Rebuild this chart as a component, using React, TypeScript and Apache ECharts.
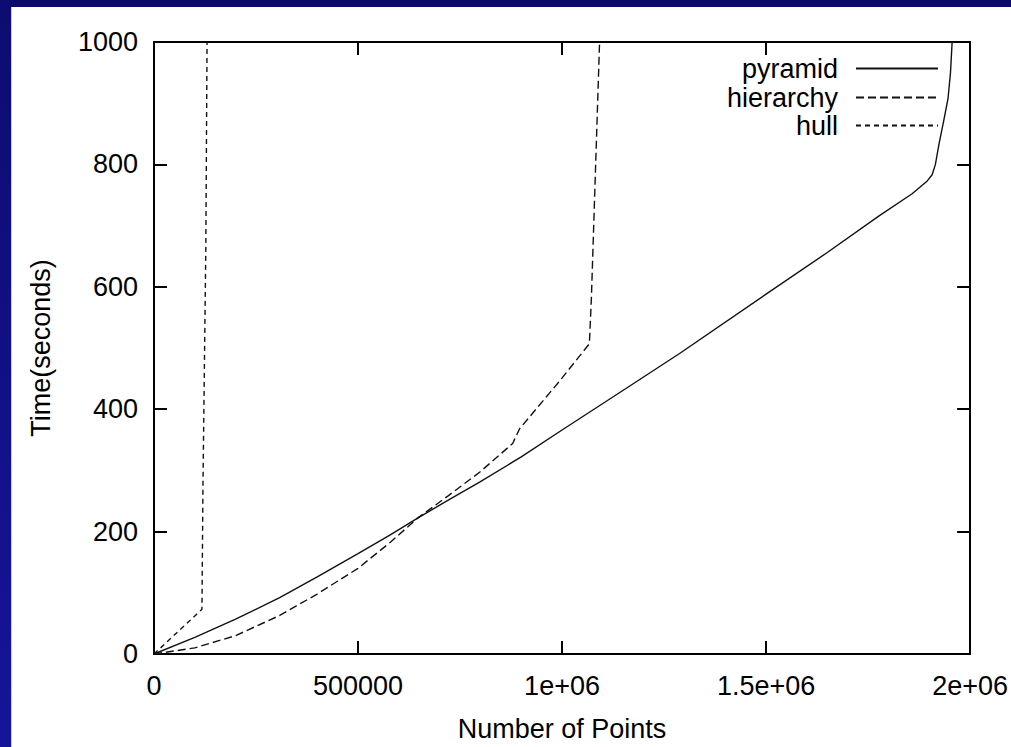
import React, { useEffect, useRef } from "react";
import * as echarts from "echarts";

const seriesNames = ["pyramid", "hierarchy", "hull"];

const pyramidData: [number, number][] = [
  [0, 0], [100000, 27], [200000, 57], [308000, 92], [400000, 126], [500000, 164],
  [580000, 195], [646000, 222], [720000, 251], [798000, 281], [900000, 322],
  [1000000, 366], [1150000, 431], [1288000, 491], [1500000, 588],
  [1650000, 656], [1777000, 716], [1858000, 752], [1895000, 773], [1907000, 783],
  [1915000, 800], [1924000, 834], [1935000, 870], [1946000, 908], [1952000, 950],
  [1956000, 1000],
];

const hierarchyData: [number, number][] = [
  [0, 0], [100000, 10], [200000, 30], [308000, 63], [400000, 98], [500000, 140],
  [580000, 183], [646000, 222], [720000, 258], [798000, 297], [879000, 344],
  [896000, 368], [994000, 446], [1067000, 507], [1072000, 583], [1092000, 1000],
];

const hullData: [number, number][] = [
  [0, 0], [117500, 73], [120000, 276], [127000, 664], [130000, 1000],
];

const xTicks = [0, 500000, 1000000, 1500000, 2000000];
const xTickLabels = ["0", "500000", "1e+06", "1.5e+06", "2e+06"];
const yTickLabels = ["0", "200", "400", "600", "800", "1000"];

const FONT = "'Liberation Sans', Arial, Helvetica, sans-serif";
const FS = 27;

export default function App() {
  const ref = useRef<HTMLDivElement>(null);
  useEffect(() => {
    if (!ref.current) return;
    const chart = echarts.init(ref.current, null, { renderer: "svg" });
    const axisLine = { show: true, onZero: false, lineStyle: { color: "#000", width: 2 } };
    const axisTick = { show: true, inside: true, length: 13, lineStyle: { color: "#000", width: 2 } };
    const labelStyle = { color: "#000", fontSize: FS, fontFamily: FONT };
    const dashes: any[] = ["solid", [8, 4], [5, 4]];
    const datas = [pyramidData, hierarchyData, hullData];
    const legendTops = [55, 84, 112];
    chart.setOption({
      animation: false,
      backgroundColor: "#ffffff",
      graphic: [
        { type: "rect", shape: { x: 0, y: 0, width: 1011, height: 7 }, style: { fill: "#0b0b6e" }, z: 100 },
        {
          type: "rect", shape: { x: 0, y: 0, width: 11, height: 747 },
          style: {
            fill: new echarts.graphic.LinearGradient(0, 0, 0, 1, [
              { offset: 0, color: "#0c0c72" },
              { offset: 1, color: "#15159a" },
            ]),
          },
          z: 100,
        },
        { type: "rect", shape: { x: 11, y: 7, width: 1, height: 740 }, style: { fill: "#c9c9dc" }, z: 100 },
      ],
      grid: { left: 154, top: 42, width: 817, height: 619, containLabel: false },
      legend: seriesNames.map((n, i) => ({
        data: [n],
        right: 72,
        top: legendTops[i],
        orient: "vertical",
        align: "right",
        padding: 0,
        itemWidth: 82,
        itemHeight: 14,
        itemStyle: { opacity: 0 },
        textStyle: { color: "#000", fontSize: FS, fontFamily: FONT, padding: [0, 13, 0, 0] },
        selectedMode: false,
      })),
      xAxis: [
        {
          type: "value", position: "bottom", min: 0, max: 2000000, interval: 500000,
          axisLine, axisTick, splitLine: { show: false },
          axisLabel: {
            ...labelStyle, margin: 18,
            formatter: (v: number) => xTickLabels[xTicks.indexOf(v)] ?? String(v),
          },
          name: "Number of Points", nameLocation: "middle", nameGap: 61,
          nameTextStyle: { ...labelStyle },
        },
        {
          type: "value", position: "top", min: 0, max: 2000000, interval: 500000,
          axisLine, axisTick, splitLine: { show: false }, axisLabel: { show: false },
        },
      ],
      yAxis: [
        {
          type: "value", position: "left", min: 0, max: 1000, interval: 200,
          axisLine, axisTick, splitLine: { show: false },
          axisLabel: { ...labelStyle, margin: 16, formatter: (v: number) => yTickLabels[v / 200] ?? String(v) },
          name: "Time(seconds)", nameLocation: "middle", nameGap: 100,
          nameTextStyle: { ...labelStyle },
        },
        {
          type: "value", position: "right", min: 0, max: 1000, interval: 200,
          axisLine, axisTick, splitLine: { show: false }, axisLabel: { show: false },
        },
      ],
      series: seriesNames.map((n, i) => ({
        name: n,
        type: "line",
        data: datas[i],
        symbol: "none",
        showSymbol: false,
        clip: true,
        lineStyle: { color: "#111", width: 1.4, type: dashes[i] },
        itemStyle: { color: "#111" },
      })),
    });
    return () => chart.dispose();
  }, []);
  return (
    <div
      ref={ref}
      style={{ position: "fixed", left: 0, top: 0, width: 1011, height: 747 }}
    />
  );
}
